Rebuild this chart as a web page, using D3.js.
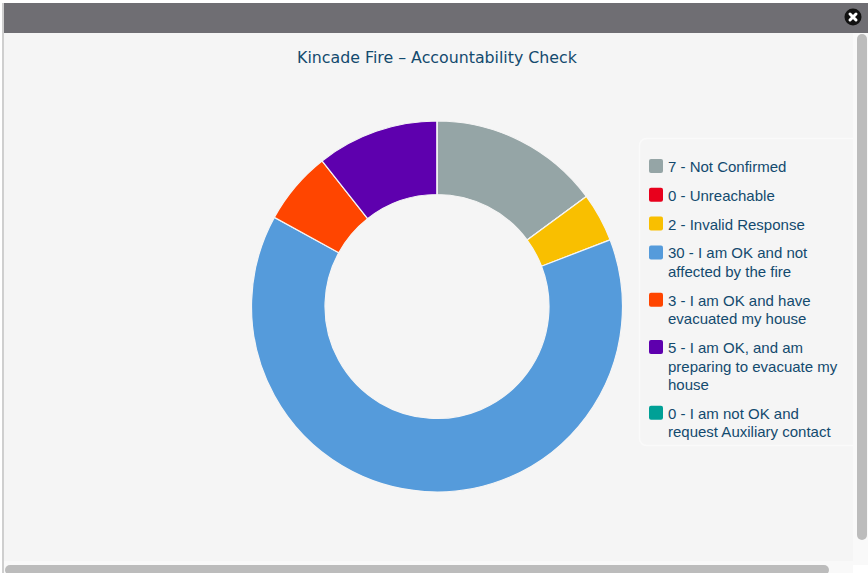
<!DOCTYPE html>
<html>
<head>
<meta charset="utf-8">
<title>Kincade Fire - Accountability Check</title>
<script src="https://cdnjs.cloudflare.com/ajax/libs/d3/7.8.5/d3.min.js"></script>
<style>
    html, body { margin: 0; padding: 0; background: #fff; overflow: hidden; }
    svg { display: block; }
</style>
</head>
<body>
<div id="chart"></div>
<script>
const chartTitle = 'Kincade Fire \u2013 Accountability Check';
const responses = [
    'Not Confirmed',
    'Unreachable',
    'Invalid Response',
    'I am OK and not affected by the fire',
    'I am OK and have evacuated my house',
    'I am OK, and am preparing to evacuate my house',
    'I am not OK and request Auxiliary contact'
];
const counts = [7, 0, 2, 30, 3, 5, 0];
const colors = ['#95a5a6', '#e8001c', '#f9bf00', '#559bdb', '#ff4500', '#5e00ae', '#00a096'];

const width = 868, height = 573;
const textColor = '#134a6e';
const panelColor = '#f5f5f5';

const svg = d3.select('#chart').append('svg')
    .attr('width', width)
    .attr('height', height);

// window chrome around the chart
svg.append('rect').attr('x', 3).attr('y', 3).attr('width', width - 3).attr('height', 30).attr('fill', '#6f6e73');
svg.append('rect').attr('x', 2).attr('y', 3).attr('width', 2).attr('height', height - 3).attr('fill', '#cfcfcf');
svg.append('rect').attr('x', 4).attr('y', 33).attr('width', 849).attr('height', 528).attr('fill', panelColor);
svg.append('rect').attr('x', 4).attr('y', 561).attr('width', 849).attr('height', 12).attr('fill', '#f9f9f9');

// close button
const close = svg.append('g').attr('transform', 'translate(853,17)');
close.append('circle').attr('r', 8.5).attr('fill', '#111');
close.append('path')
    .attr('d', 'M-3,-3L3,3M3,-3L-3,3')
    .attr('stroke', '#fff')
    .attr('stroke-width', 3)
    .attr('stroke-linecap', 'round');

svg.append('text')
    .attr('x', 437)
    .attr('y', 63)
    .attr('text-anchor', 'middle')
    .attr('font-family', '"DejaVu Sans", sans-serif')
    .attr('font-size', 15.8)
    .attr('fill', textColor)
    .text(chartTitle);

// donut
const pie = d3.pie().sort(null).value(d => d);
const arc = d3.arc().innerRadius(112).outerRadius(185.5);

svg.append('g')
    .attr('transform', 'translate(437,306.5)')
    .selectAll('path')
    .data(pie(counts))
    .join('path')
    .attr('d', arc)
    .attr('fill', (d, i) => colors[i])
    .attr('stroke', panelColor)
    .attr('stroke-width', 1.2);

// legend
svg.append('rect')
    .attr('x', 639.5)
    .attr('y', 138.5)
    .attr('width', 230)
    .attr('height', 307)
    .attr('rx', 7)
    .attr('fill', panelColor)
    .attr('stroke', '#fafafa')
    .attr('stroke-width', 1.5);

// scrollbars go on top so they cut the legend box off
svg.append('rect').attr('x', 853).attr('y', 33).attr('width', 15).attr('height', 532).attr('fill', '#f9f9f9');
svg.append('rect').attr('x', 857).attr('y', 34).attr('width', 10).attr('height', 506).attr('rx', 5).attr('fill', '#bcbcbc');
svg.append('rect').attr('x', 5).attr('y', 565).attr('width', 824).attr('height', 10).attr('rx', 5).attr('fill', '#bcbcbc');

const lineHeight = 18.5;
const itemGap = 10.3;
const maxTextWidth = 174;
let rowTop = 157;

responses.forEach((response, i) => {
    const row = svg.append('g').attr('transform', `translate(649,${rowTop})`);
    row.append('rect')
        .attr('y', 2)
        .attr('width', 14)
        .attr('height', 14)
        .attr('rx', 2)
        .attr('fill', colors[i]);

    const label = row.append('text')
        .attr('font-family', '"Liberation Sans", Arial, sans-serif')
        .attr('font-size', 15)
        .attr('fill', textColor);

    // wrap the label by hand, svg text does not do it
    const words = `${counts[i]} - ${response}`.split(' ');
    let lines = 0;
    let current = [];
    let tspan = label.append('tspan').attr('x', 19).attr('y', 15);
    words.forEach(word => {
        current.push(word);
        tspan.text(current.join(' '));
        if (tspan.node().getComputedTextLength() > maxTextWidth) {
            current.pop();
            tspan.text(current.join(' '));
            current = [word];
            lines += 1;
            tspan = label.append('tspan')
                .attr('x', 19)
                .attr('y', 15 + lines * lineHeight)
                .text(word);
        }
    });
    rowTop += (lines + 1) * lineHeight + itemGap;
});
</script>
</body>
</html>
